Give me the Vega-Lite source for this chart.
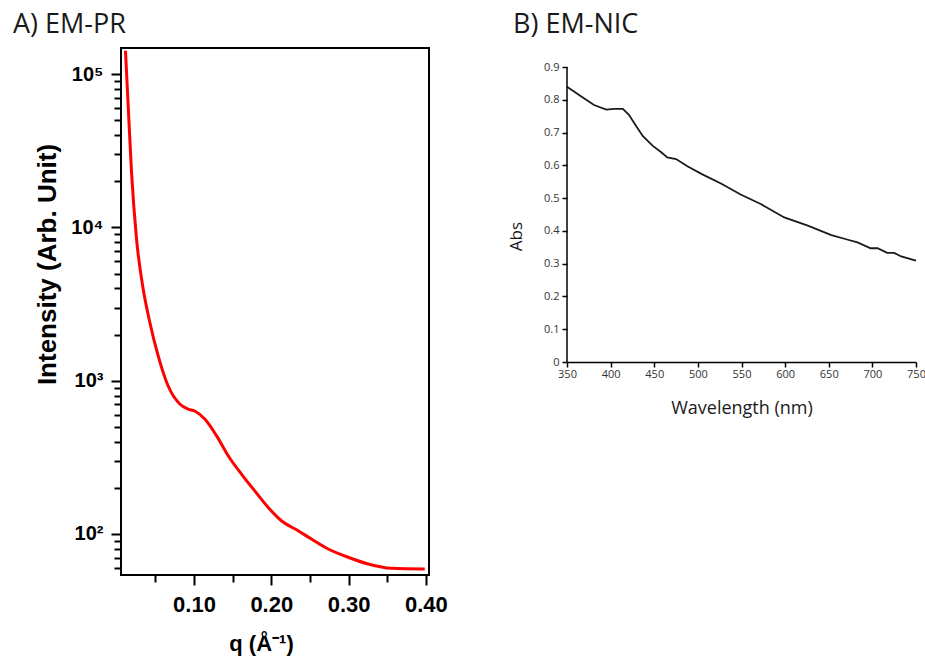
{
  "$schema": "https://vega.github.io/schema/vega-lite/v6.json",
  "background": "white",
  "padding": {"left": 12, "top": 10, "right": 5, "bottom": 5},
  "bounds": "flush",
  "spacing": 138,
  "config": {"axis": {"grid": false}},
  "datasets": {
    "saxs": [
      {"q": 0.0114, "I": 142000}, {"q": 0.0149, "I": 62200}, {"q": 0.0192, "I": 22950},
      {"q": 0.0257, "I": 8400}, {"q": 0.0343, "I": 3960}, {"q": 0.0428, "I": 2415},
      {"q": 0.0537, "I": 1450}, {"q": 0.0666, "I": 923}, {"q": 0.0816, "I": 705},
      {"q": 0.0925, "I": 653}, {"q": 0.101, "I": 634}, {"q": 0.114, "I": 562},
      {"q": 0.1291, "I": 438}, {"q": 0.1442, "I": 324}, {"q": 0.1614, "I": 246},
      {"q": 0.1786, "I": 191}, {"q": 0.196, "I": 149}, {"q": 0.2131, "I": 122},
      {"q": 0.2347, "I": 105}, {"q": 0.2519, "I": 92.7}, {"q": 0.2735, "I": 79.8},
      {"q": 0.2994, "I": 70.5}, {"q": 0.3253, "I": 63.7}, {"q": 0.3554, "I": 59.7},
      {"q": 0.3985, "I": 59.1}
    ],
    "uv": [
      {"wl": 350, "abs": 0.840}, {"wl": 366, "abs": 0.811}, {"wl": 381, "abs": 0.784},
      {"wl": 395, "abs": 0.770}, {"wl": 404, "abs": 0.772}, {"wl": 414, "abs": 0.772},
      {"wl": 421, "abs": 0.754}, {"wl": 429, "abs": 0.721}, {"wl": 437, "abs": 0.689},
      {"wl": 448, "abs": 0.660}, {"wl": 458, "abs": 0.640}, {"wl": 465, "abs": 0.624},
      {"wl": 475, "abs": 0.619}, {"wl": 488, "abs": 0.597}, {"wl": 504, "abs": 0.574},
      {"wl": 527, "abs": 0.544}, {"wl": 549, "abs": 0.511}, {"wl": 572, "abs": 0.482},
      {"wl": 599, "abs": 0.441}, {"wl": 626, "abs": 0.416}, {"wl": 653, "abs": 0.387},
      {"wl": 672, "abs": 0.373}, {"wl": 683, "abs": 0.365}, {"wl": 698, "abs": 0.347},
      {"wl": 706, "abs": 0.347}, {"wl": 717, "abs": 0.333}, {"wl": 725, "abs": 0.333},
      {"wl": 733, "abs": 0.322}, {"wl": 750, "abs": 0.309}
    ],
    "yaxisline": [{"wl": 350, "abs": 0, "abs2": 0.9}]
  },
  "hconcat": [
    {
      "width": 308,
      "height": 527,
      "view": {"stroke": "black", "strokeWidth": 2},
      "title": {"text": "A) EM-PR", "anchor": "start", "frame": "group", "dx": -108, "offset": -12, "baseline": "alphabetic", "font": "Open Sans", "fontSize": 27, "fontWeight": "normal", "color": "#1a1a1a"},
      "data": {"name": "saxs"},
      "layer": [
        {
          "mark": {"type": "line", "color": "#ff0000", "strokeWidth": 3, "interpolate": "monotone", "clip": true},
          "encoding": {
            "x": {
              "field": "q", "type": "quantitative",
              "scale": {"domain": [0.0056, 0.404], "nice": false, "zero": false},
              "axis": {
                "orient": "bottom", "values": [0.1, 0.2, 0.3, 0.4], "format": ".2f",
                "domain": false, "tickSize": 10, "tickWidth": 2, "tickColor": "black",
                "labelFont": "Liberation Sans", "labelFontWeight": "bold", "labelFontSize": 22, "labelColor": "black", "labelPadding": 9,
                "labelFlush": false, "labelOverlap": false,
                "title": "q (Å⁻¹)", "titleFont": "Liberation Sans", "titleFontWeight": "bold", "titleFontSize": 22, "titleColor": "black",
                "titleX": 140, "titleY": 68, "titleBaseline": "middle"
              }
            },
            "y": {
              "field": "I", "type": "quantitative",
              "scale": {"type": "log", "domain": [54, 148000], "nice": false},
              "axis": {
                "orient": "left", "values": [100, 1000, 10000, 100000],
                "labelExpr": "datum.value == 100 ? '10²' : datum.value == 1000 ? '10³' : datum.value == 10000 ? '10⁴' : '10⁵'",
                "domain": false, "tickSize": 10, "tickWidth": 2, "tickColor": "black",
                "labelFont": "Liberation Sans", "labelFontWeight": "bold", "labelFontSize": 20, "labelColor": "black", "labelPadding": 8,
                "labelFlush": false, "labelOverlap": false,
                "title": "Intensity (Arb. Unit)", "titleFont": "Liberation Sans", "titleFontWeight": "bold", "titleFontSize": 26, "titleColor": "black",
                "titleX": -74, "titleY": 216, "titleBaseline": "middle", "titleAngle": -90
              }
            }
          }
        },
        {
          "mark": {"type": "line", "opacity": 0},
          "encoding": {
            "x": {
              "field": "q", "type": "quantitative",
              "axis": {"orient": "bottom", "values": [0.05, 0.15, 0.25, 0.35], "labels": false, "domain": false, "title": null, "tickSize": 7, "tickWidth": 2, "tickColor": "black"}
            },
            "y": {
              "field": "I", "type": "quantitative",
              "axis": {"orient": "left", "values": [60, 70, 80, 90, 200, 300, 400, 500, 600, 700, 800, 900, 2000, 3000, 4000, 5000, 6000, 7000, 8000, 9000, 20000, 30000, 40000, 50000, 60000, 70000, 80000, 90000], "labels": false, "domain": false, "title": null, "tickSize": 7, "tickWidth": 2, "tickColor": "black"}
            }
          }
        }
      ],
      "resolve": {"axis": {"x": "independent", "y": "independent"}}
    },
    {
      "width": 349,
      "height": 314,
      "view": {"stroke": null},
      "title": {"text": "B) EM-NIC", "anchor": "start", "frame": "group", "dx": -54, "offset": -12, "baseline": "alphabetic", "font": "Open Sans", "fontSize": 27, "fontWeight": "normal", "color": "#1a1a1a"},
      "layer": [
        {
          "data": {"name": "uv"},
          "mark": {"type": "line", "color": "#1a1a1a", "strokeWidth": 1.8},
          "encoding": {
            "x": {
              "field": "wl", "type": "quantitative",
              "scale": {"domain": [350, 750], "nice": false, "zero": false},
              "axis": {
                "values": [350, 400, 450, 500, 550, 600, 650, 700, 750],
                "domainColor": "black", "domainWidth": 1.5, "tickSize": 5, "tickWidth": 1.5, "tickColor": "black",
                "labelFont": "Open Sans", "labelFontSize": 11, "labelColor": "#333333", "labelPadding": 1,
                "labelFlush": false, "labelOverlap": false,
                "title": "Wavelength (nm)", "titleFont": "Open Sans", "titleFontSize": 18, "titleFontWeight": "normal", "titleColor": "#1a1a1a",
                "titleY": 46, "titleBaseline": "middle"
              }
            },
            "y": {
              "field": "abs", "type": "quantitative",
              "scale": {"domain": [0, 0.958], "nice": false},
              "axis": {
                "values": [0, 0.1, 0.2, 0.3, 0.4, 0.5, 0.6, 0.7, 0.8, 0.9], "format": ".1~f",
                "domain": false, "tickSize": 5, "tickWidth": 1.5, "tickColor": "black",
                "labelFont": "Open Sans", "labelFontSize": 11, "labelColor": "#333333", "labelPadding": 3,
                "labelFlush": false, "labelOverlap": false,
                "title": "Abs", "titleFont": "Open Sans", "titleFontSize": 17, "titleFontWeight": "normal", "titleColor": "#1a1a1a",
                "titleX": -51, "titleY": 188, "titleBaseline": "middle", "titleAngle": -90
              }
            }
          }
        },
        {
          "data": {"name": "yaxisline"},
          "mark": {"type": "rule", "color": "black", "strokeWidth": 1.5},
          "encoding": {
            "x": {
              "field": "wl", "type": "quantitative",
              "axis": {
                "values": [350, 400, 450, 500, 550, 600, 650, 700, 750],
                "domainColor": "black", "domainWidth": 1.5, "tickSize": 5, "tickWidth": 1.5, "tickColor": "black",
                "labelFont": "Open Sans", "labelFontSize": 11, "labelColor": "#333333", "labelPadding": 1,
                "labelFlush": false, "labelOverlap": false,
                "title": "Wavelength (nm)", "titleFont": "Open Sans", "titleFontSize": 18, "titleFontWeight": "normal", "titleColor": "#1a1a1a",
                "titleY": 46, "titleBaseline": "middle"
              }
            },
            "y": {
              "field": "abs", "type": "quantitative",
              "axis": {
                "values": [0, 0.1, 0.2, 0.3, 0.4, 0.5, 0.6, 0.7, 0.8, 0.9], "format": ".1~f",
                "domain": false, "tickSize": 5, "tickWidth": 1.5, "tickColor": "black",
                "labelFont": "Open Sans", "labelFontSize": 11, "labelColor": "#333333", "labelPadding": 3,
                "labelFlush": false, "labelOverlap": false,
                "title": "Abs", "titleFont": "Open Sans", "titleFontSize": 17, "titleFontWeight": "normal", "titleColor": "#1a1a1a",
                "titleX": -51, "titleY": 188, "titleBaseline": "middle", "titleAngle": -90
              }
            },
            "y2": {"field": "abs2"}
          }
        }
      ]
    }
  ]
}
